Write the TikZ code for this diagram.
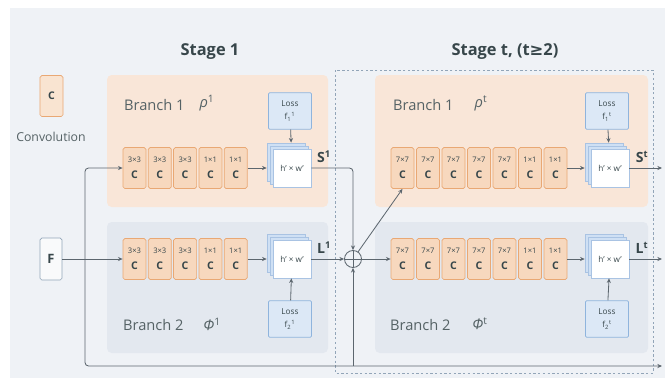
\documentclass[tikz,border=0pt]{standalone}
\usepackage{fontspec}
\setmainfont{Open Sans}
\newfontfamily\symfont{DejaVu Sans}
\usetikzlibrary{arrows.meta,shadows}
\definecolor{bgcol}{HTML}{EFF2F6}
\definecolor{peach}{HTML}{F9E6D8}
\definecolor{bluepanel}{HTML}{E3E8EF}
\definecolor{convfill}{HTML}{F7D8BE}
\definecolor{convline}{HTML}{E9A874}
\definecolor{lossfill}{HTML}{DCE8F6}
\definecolor{lossline}{HTML}{8FB4DD}
\definecolor{stackback}{HTML}{CFE0F4}
\definecolor{stackline}{HTML}{A9C3E3}
\definecolor{linecol}{HTML}{5C666E}
\definecolor{ink}{HTML}{37464A}
\definecolor{dashcol}{HTML}{92A5B8}
\tikzset{
  conv/.style={draw=convline, fill=convfill, rounded corners=1.5pt, line width=0.6pt,
    minimum width=0.69cm, minimum height=1.23cm, inner sep=0pt, align=center, text=ink},
  loss/.style={draw=lossline, fill=lossfill, rounded corners=1pt, line width=0.6pt,
    minimum width=1.29cm, minimum height=1.1cm, inner sep=0pt, align=center, text=ink,
    font=\fontsize{7}{9}\selectfont},
  fmap/.style={draw=stackline, fill=white, line width=0.5pt, minimum size=1.14cm, inner sep=0pt,
    text=ink, font=\fontsize{7}{8}\selectfont,
    double copy shadow={shadow xshift=-0.08cm, shadow yshift=0.08cm, fill=stackback, draw=stackline}},
  arr/.style={-{Stealth[length=4pt,width=3.5pt]}, draw=linecol, line width=0.7pt},
  wire/.style={draw=linecol, line width=0.7pt},
  title/.style={text=ink, font=\fontsize{14}{16}\selectfont\bfseries},
  blabel/.style={text=ink!85, font=\fontsize{12.5}{14}\selectfont},
  outlbl/.style={text=ink, font=\fontsize{12}{14}\selectfont\bfseries}
}
\newcommand{\convtext}[1]{{\fontsize{6.5}{6.5}\selectfont #1}\\[2pt]{\fontsize{9}{9}\selectfont\bfseries C}}

\begin{document}
\begin{tikzpicture}[x=0.03cm, y=-0.03cm]
  \useasboundingbox (0,0) rectangle (665,380);
  \fill[bgcol] (10,8) rectangle (665,378);

  \fill[peach, rounded corners=4pt] (107,75) rectangle (328,207);
  \fill[bluepanel, rounded corners=4pt] (107,222) rectangle (328,353);
  \fill[peach, rounded corners=4pt] (375,75) rectangle (648,207);
  \fill[bluepanel, rounded corners=4pt] (375,222) rectangle (648,353);
  \draw[dashcol, dash pattern=on 2pt off 2pt, line width=0.6pt] (335,70) rectangle (653,373);

  \node[title] (stage1) at (210,52) {Stage 1};
  \node[title] (staget) at (505,52) {Stage t, (t{\symfont ≥}2)};

  \node[conv, fill=convfill!70] (legend) at (51.5,96) {\fontsize{9}{9}\selectfont\bfseries C};
  \node[text=ink!85, font=\fontsize{10.5}{12}\selectfont] (legendtxt) at (51,137) {Convolution};

  \node[draw=dashcol, fill=white!60!bgcol, rounded corners=1.5pt, line width=0.6pt,
    minimum width=0.66cm, minimum height=1.26cm, text=ink,
    font=\fontsize{11}{12}\selectfont\bfseries] (F) at (51,259) {F};

  \node[blabel, anchor=west] (br1a) at (120,105) {Branch 1};
  \node[blabel] (rho1) at (207,103) {\textit{ρ}\textsuperscript{1}};
  \node[blabel, anchor=west] (br2a) at (119,325) {Branch 2};
  \node[blabel] (phi1) at (212,324) {\textit{Φ}\textsuperscript{1}};
  \node[blabel, anchor=west] (br1b) at (389,105) {Branch 1};
  \node[blabel] (rhot) at (481,103) {\textit{ρ}\textsuperscript{t}};
  \node[blabel, anchor=west] (br2b) at (386,325) {Branch 2};
  \node[blabel] (phit) at (480,324) {\textit{Φ}\textsuperscript{t}};

  \foreach \k [count=\i] in {3×3,3×3,3×3,1×1,1×1}{
    \node[conv] (ca\i) at ({134.5+25.3*(\i-1)},168) {\convtext{\k}};
    \node[conv] (cb\i) at ({134.5+25.3*(\i-1)},259) {\convtext{\k}};
  }
  \foreach \k [count=\i] in {7×7,7×7,7×7,7×7,7×7,1×1,1×1}{
    \node[conv] (cc\i) at ({402.5+25.5*(\i-1)},168) {\convtext{\k}};
    \node[conv] (cd\i) at ({402.5+25.5*(\i-1)},259) {\convtext{\k}};
  }

  \node[fmap] (S1) at (292,168) {h’ × w’};
  \node[fmap] (L1) at (292,259) {h’ × w’};
  \node[fmap] (St) at (610,168) {h’ × w’};
  \node[fmap] (Lt) at (610,259) {h’ × w’};

  \node[loss] (lossA) at (290,111) {Loss\\[2pt]f\textsubscript{1}\textsuperscript{1}};
  \node[loss] (lossB) at (290,319) {Loss\\[2pt]f\textsubscript{2}\textsuperscript{1}};
  \node[loss] (lossC) at (607,111) {Loss\\[2pt]f\textsubscript{1}\textsuperscript{t}};
  \node[loss] (lossD) at (607,319) {Loss\\[2pt]f\textsubscript{2}\textsuperscript{t}};

  \node[outlbl] (S1txt) at (324,157) {S\textsuperscript{1}};
  \node[outlbl] (L1txt) at (324,248) {L\textsuperscript{1}};
  \node[outlbl] (Sttxt) at (642,157) {S\textsuperscript{t}};
  \node[outlbl] (Lttxt) at (642,248) {L\textsuperscript{t}};

  \node[draw=linecol, line width=0.7pt, circle, minimum size=0.51cm, inner sep=0pt] (sum) at (353,259) {};
  \draw[wire] (sum.north) -- (sum.south) (sum.west) -- (sum.east);

  \coordinate (split) at (85,259);
  \coordinate (tap) at (353,366);
  \coordinate (outS) at (662,168);
  \coordinate (outL) at (662,259);
  \coordinate (outF) at (662,366);

  \draw[arr] (F) -- (cb1);
  \draw[arr, rounded corners=3pt] (split) |- (ca1);
  \draw[arr, rounded corners=3pt] (split) |- (outF);
  \draw[arr] (tap) -- (sum);

  \draw[arr, shorten >=0.18cm] (ca5) -- (S1);
  \draw[arr, shorten >=0.18cm] (cb5) -- (L1);
  \draw[arr, shorten >=0.18cm] (lossA) -- (S1);
  \draw[arr] (lossB) -- (L1);
  \draw[arr, rounded corners=3pt] (S1) -| (sum);
  \draw[arr] (L1) -- (sum);

  \draw[arr] (sum) -- (cd1);
  \draw[arr] (sum) -- (cc1.south);
  \draw[arr, shorten >=0.18cm] (cc7) -- (St);
  \draw[arr, shorten >=0.18cm] (cd7) -- (Lt);
  \draw[arr, shorten >=0.18cm] (lossC) -- (St);
  \draw[arr] (lossD) -- (Lt);
  \draw[arr] (St) -- (outS);
  \draw[arr] (Lt) -- (outL);
\end{tikzpicture}
\end{document}
